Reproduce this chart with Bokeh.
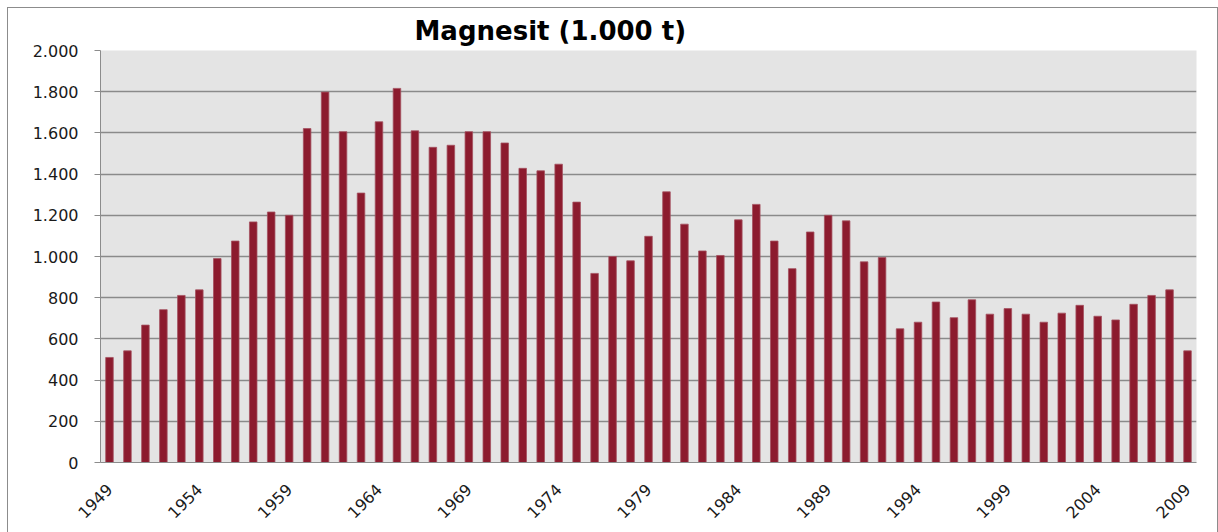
import math
from bokeh.plotting import figure
from bokeh.models import Range1d, FixedTicker, Title, ColumnDataSource
from bokeh.embed import file_html
from bokeh.resources import INLINE

title_text = "Magnesit (1.000 t)"
years = list(range(1949, 2010))
values = [
    510, 542, 667, 742, 811, 838, 990, 1075, 1168, 1216,
    1200, 1621, 1798, 1606, 1308, 1654, 1816, 1610, 1530, 1540,
    1606, 1606, 1551, 1428, 1416, 1448, 1264, 918, 1000, 979,
    1098, 1314, 1157, 1027, 1005, 1178, 1253, 1075, 941, 1119,
    1200, 1173, 974, 995, 649, 681, 779, 703, 790, 720,
    747, 720, 681, 725, 763, 710, 692, 768, 811, 838,
    542,
]
y_ticks = [0, 200, 400, 600, 800, 1000, 1200, 1400, 1600, 1800, 2000]
y_labels = ["0", "200", "400", "600", "800", "1.000", "1.200", "1.400", "1.600", "1.800", "2.000"]
x_ticks = [1949, 1954, 1959, 1964, 1969, 1974, 1979, 1984, 1989, 1994, 1999, 2004, 2009]

source = ColumnDataSource(data=dict(year=years, value=values))

p = figure(
    width=1209, height=524,
    output_backend="svg", toolbar_location=None,
    x_range=Range1d(years[0] - 0.5, years[-1] + 0.5),
    y_range=Range1d(0, 2000),
    min_border_left=92, min_border_right=21,
    min_border_top=39, min_border_bottom=70,
    background_fill_color="#E4E4E4",
    border_fill_color="white",
)
p.outline_line_color = None
p.styles = {"margin-left": "8px", "margin-top": "8px",
            "outline": "1px solid #8c8c8c"}

p.title = Title(
    text=title_text, align="left", offset=314,
    text_font="DejaVu Sans", text_font_style="bold",
    text_font_size="26px", text_color="#000000",
)

p.vbar(x="year", top="value", width=0.42, source=source,
       fill_color="#8C1B2E", line_color="#A5505F", line_width=0.8)

p.xgrid.visible = False
p.ygrid.grid_line_color = "#8a8a8a"
p.ygrid.grid_line_width = 1.3

p.yaxis.ticker = FixedTicker(ticks=y_ticks)
p.yaxis.major_label_overrides = {t: l for t, l in zip(y_ticks, y_labels)}
p.yaxis.minor_tick_line_color = None
p.yaxis.major_tick_out = 6
p.yaxis.major_tick_in = 0
p.yaxis.major_label_standoff = 16
p.yaxis.axis_line_color = "#8c8c8c"
p.yaxis.major_tick_line_color = "#8c8c8c"

p.xaxis.ticker = FixedTicker(ticks=x_ticks)
p.xaxis.minor_tick_line_color = None
p.xaxis.major_tick_out = 0
p.xaxis.major_tick_in = 0
p.xaxis.major_label_orientation = math.pi / 4
p.xaxis.major_label_standoff = 24
p.xaxis.axis_line_color = "#8c8c8c"

for ax in (p.xaxis, p.yaxis):
    ax.major_label_text_font = "DejaVu Sans"
    ax.major_label_text_font_size = "16px"
    ax.major_label_text_color = "#1a1a1a"
    ax.major_label_text_font_style = "normal"

open("out.html", "w").write(file_html(p, INLINE))
